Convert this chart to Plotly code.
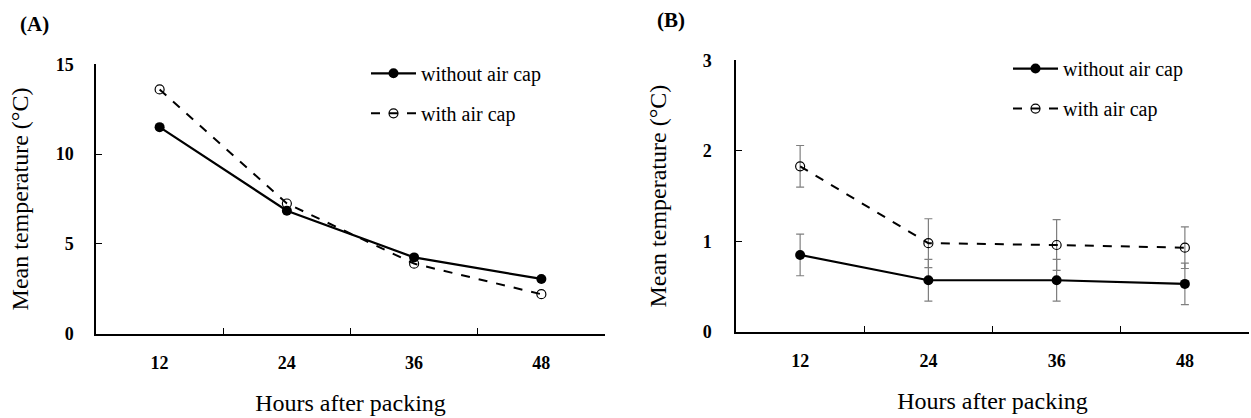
import plotly.graph_objects as go

hours = ["12", "24", "36", "48"]
a_without = [11.5, 6.85, 4.25, 3.05]
a_with = [13.6, 7.25, 3.9, 2.2]
b_without = [0.85, 0.57, 0.57, 0.53]
b_without_err = [0.23, 0.23, 0.23, 0.23]
b_with = [1.83, 0.98, 0.96, 0.93]
b_with_err = [0.23, 0.27, 0.28, 0.23]
yticks_a = [0, 5, 10, 15]
yticks_b = [0, 1, 2, 3]
names = ["without air cap", "with air cap"]

W, H = 1251, 418
FONT = "Liberation Serif"

fig = go.Figure()

def add_pair(xa, ya, yw, yo, err_w=None, err_o=None, legend="legend"):
    ev = dict(type="data", array=err_w, visible=True, color="#7f7f7f", thickness=1.2, width=4) if err_w else None
    eo = dict(type="data", array=err_o, visible=True, color="#7f7f7f", thickness=1.2, width=4) if err_o else None
    fig.add_trace(go.Scatter(x=hours, y=yw, name=names[0], xaxis=xa, yaxis=ya,
                             mode="lines+markers", line=dict(color="black", width=2.2),
                             marker=dict(symbol="circle", size=10, color="black"),
                             error_y=ev, legend=legend, legendgroup=legend + "a"))
    fig.add_trace(go.Scatter(x=hours, y=yo, name=names[1], xaxis=xa, yaxis=ya,
                             mode="lines+markers", line=dict(color="black", width=2, dash="dash"),
                             marker=dict(symbol="circle-open", size=9, color="black", line=dict(width=1.2)),
                             error_y=eo, legend=legend, legendgroup=legend + "b"))

add_pair("x", "y", a_without, a_with)
add_pair("x2", "y2", b_without, b_with, b_without_err, b_with_err, legend="legend2")

tickfont = dict(family=FONT, size=18, color="black", weight="bold")
titlefont = dict(family=FONT, size=24, color="black")

xcommon = dict(type="category", range=[-0.5, 3.5], tickson="boundaries", ticks="inside",
               ticklen=6, tickwidth=1.2, tickcolor="black", showline=True, linecolor="black",
               linewidth=1.5, showgrid=False, zeroline=False, ticklabelstandoff=12,
               tickfont=tickfont,
               title=dict(text="Hours after packing", font=titlefont, standoff=22))
ycommon = dict(ticks="inside", ticklen=6, tickwidth=1.2, tickcolor="black", showline=True,
               linecolor="black", linewidth=1.5, showgrid=False, zeroline=False,
               tickfont=tickfont)

legcommon = dict(xanchor="left", yanchor="top", font=dict(family=FONT, size=20, color="black"),
                 bgcolor="rgba(0,0,0,0)", tracegroupgap=11, traceorder="grouped", itemwidth=45)

fig.update_layout(
    width=W, height=H, autosize=False,
    margin=dict(l=0, r=0, t=0, b=0),
    paper_bgcolor="white", plot_bgcolor="white",
    font=dict(family=FONT, color="black"),
    xaxis=dict(domain=[96 / W, 605 / W], anchor="y", **xcommon),
    yaxis=dict(domain=[(H - 340) / H, (H - 57) / H], anchor="x", range=[0, 15],
               tickvals=yticks_a, ticklabelstandoff=17,
               title=dict(text="Mean temperature (°C)", font=titlefont, standoff=20), **ycommon),
    xaxis2=dict(domain=[736 / W, 1249 / W], anchor="y2", **xcommon),
    yaxis2=dict(domain=[(H - 338) / H, (H - 53) / H], anchor="x2", range=[0, 3],
                tickvals=yticks_b, ticklabelstandoff=19,
                title=dict(text="Mean temperature (°C)", font=titlefont, standoff=29), **ycommon),
    legend=dict(x=366 / W, y=1 - 46 / H, **legcommon),
    legend2=dict(x=1008 / W, y=1 - 41 / H, **legcommon),
    annotations=[
        dict(text="<b>(A)</b>", x=18 / W, y=1 - 15 / H, xref="paper", yref="paper",
             xanchor="left", yanchor="middle", showarrow=False,
             font=dict(family=FONT, size=21, color="black")),
        dict(text="<b>(B)</b>", x=655 / W, y=1 - 10 / H, xref="paper", yref="paper",
             xanchor="left", yanchor="middle", showarrow=False,
             font=dict(family=FONT, size=21, color="black")),
    ],
    showlegend=True,
)

fig.write_html("out.html")
